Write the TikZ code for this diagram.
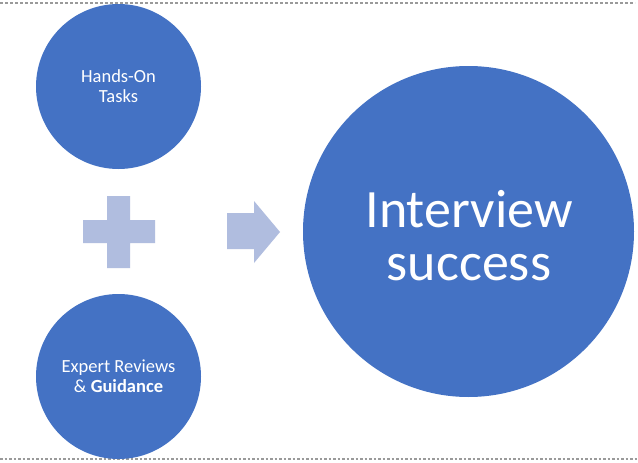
\documentclass[tikz,border=0pt]{standalone}
\usepackage{fontspec}
\setmainfont{Carlito}
\definecolor{circblue}{HTML}{4472C4}
\definecolor{lightblue}{HTML}{B0BDDF}
\definecolor{dotgray}{HTML}{9A9A9A}
\tikzset{
  bubble/.style={circle, fill=circblue, draw=none, inner sep=0pt, text=white, align=center},
  shapefill/.style={fill=lightblue, draw=none},
  sepline/.style={draw=dotgray, line width=1.2pt},
}
\begin{document}
\begin{tikzpicture}[x=1pt, y=-1pt]
\useasboundingbox (0,0) rectangle (638,463);
\fill[white] (0,0) rectangle (638,463);
% dotted separators
\coordinate (tl) at (0,3);
\coordinate (tr) at (635,3);
\coordinate (bl) at (0,459);
\coordinate (br) at (638,459);
\draw[sepline, dash pattern=on 3pt off 2pt] (tl) -- (tr);
\draw[sepline, dash pattern=on 2.5pt off 2pt] (bl) -- (br);
% circles
\node[bubble, minimum size=165pt, font=\fontsize{18.5}{20}\selectfont] (hands) at (118.5,86.5) {Hands-On\\Tasks};
\node[bubble, minimum size=165pt, font=\fontsize{18.5}{20}\selectfont] (expert) at (118.5,376.5) {Expert Reviews\\\& \textbf{Guidance}};
\node[bubble, minimum size=331pt] (success) at (468.5,231.5) {};
\node[text=white, align=center, inner sep=0pt, font=\fontsize{54}{53}\selectfont] (successtext) at (469,236) {Interview\\success};
% plus sign
\fill[shapefill] (107,196) -- (130,196) -- (130,220) -- (155,220) -- (155,243) -- (130,243)
  -- (130,268) -- (107,268) -- (107,243) -- (83,243) -- (83,220) -- (107,220) -- cycle;
% block arrow
\fill[shapefill] (227,213) -- (254,213) -- (254,201) -- (280,232) -- (254,263) -- (254,249) -- (227,249) -- cycle;
\end{tikzpicture}
\end{document}
